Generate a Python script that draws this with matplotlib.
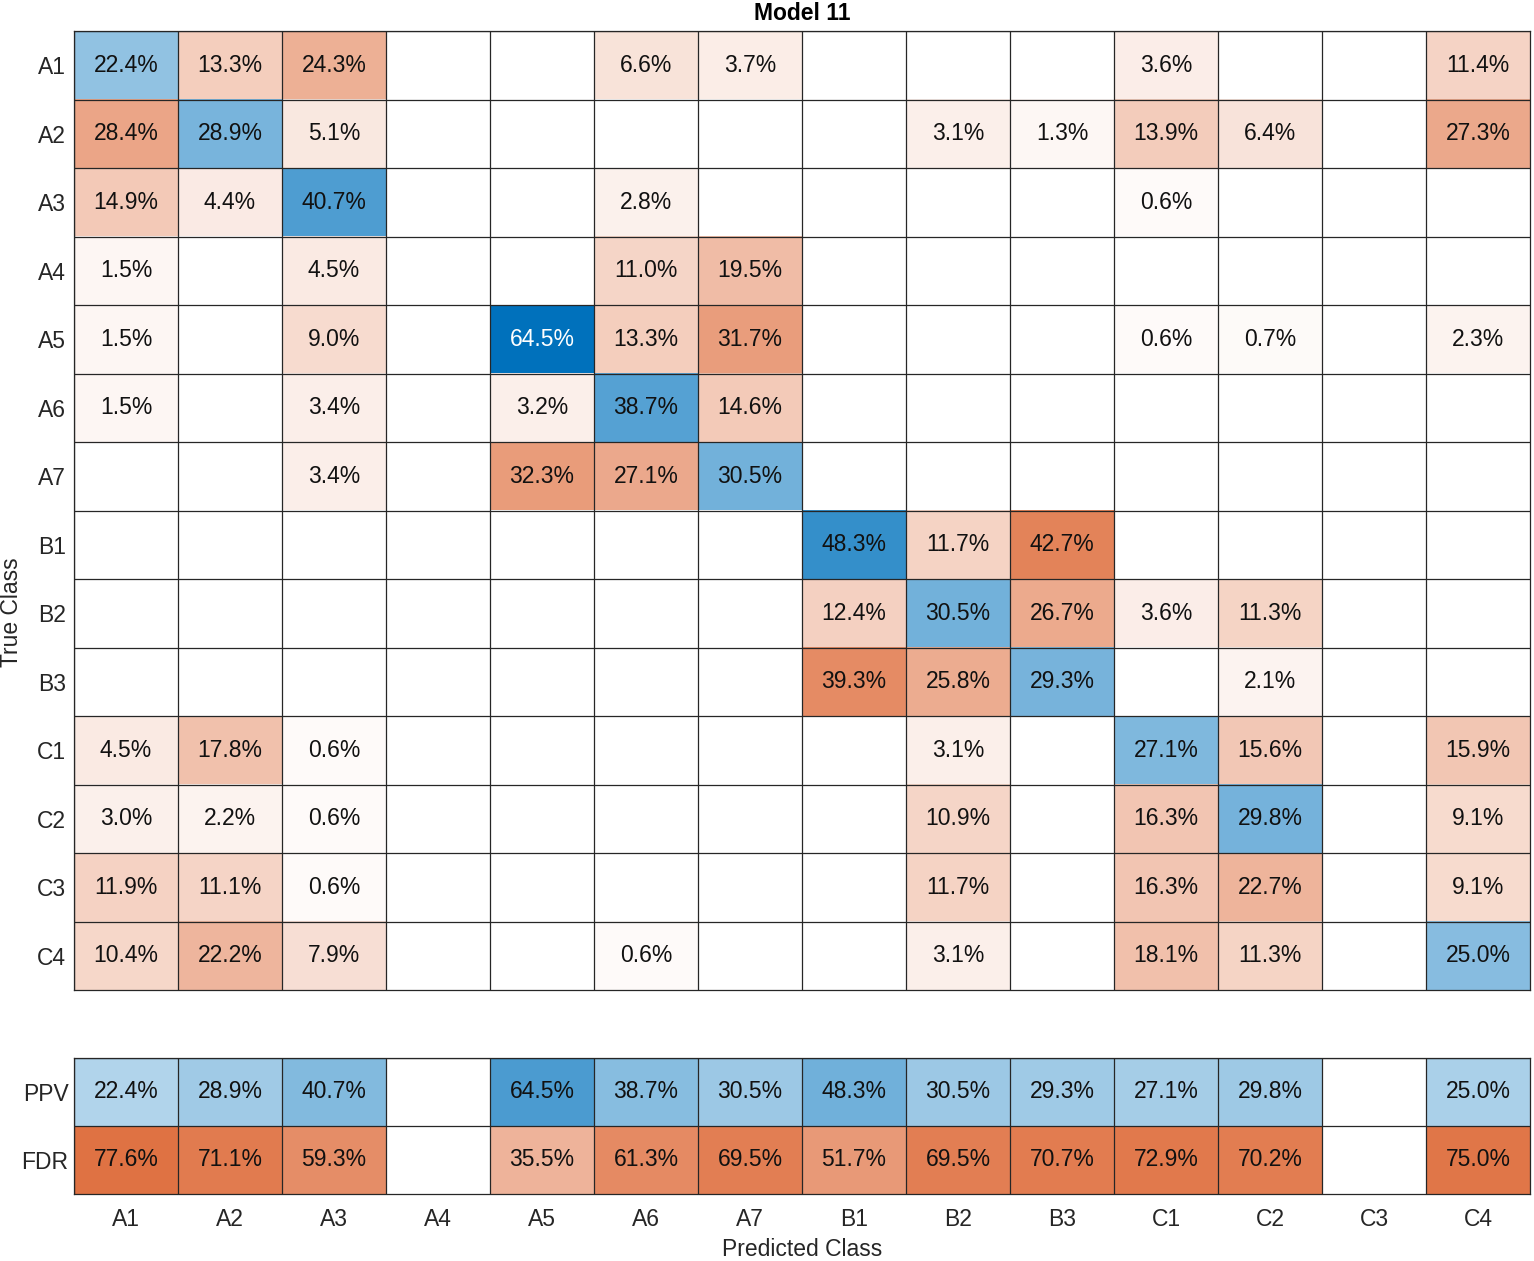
import numpy as np
import matplotlib
matplotlib.use("Agg")
import matplotlib.pyplot as plt

# --- DATA (column-normalized %, None = empty cell) ---
CLASSES = ["A1", "A2", "A3", "A4", "A5", "A6", "A7",
           "B1", "B2", "B3", "C1", "C2", "C3", "C4"]
N = None
CONF_PCT = [
    [22.4, 13.3, 24.3, N, N, 6.6, 3.7, N, N, N, 3.6, N, N, 11.4],
    [28.4, 28.9, 5.1, N, N, N, N, N, 3.1, 1.3, 13.9, 6.4, N, 27.3],
    [14.9, 4.4, 40.7, N, N, 2.8, N, N, N, N, 0.6, N, N, N],
    [1.5, N, 4.5, N, N, 11.0, 19.5, N, N, N, N, N, N, N],
    [1.5, N, 9.0, N, 64.5, 13.3, 31.7, N, N, N, 0.6, 0.7, N, 2.3],
    [1.5, N, 3.4, N, 3.2, 38.7, 14.6, N, N, N, N, N, N, N],
    [N, N, 3.4, N, 32.3, 27.1, 30.5, N, N, N, N, N, N, N],
    [N, N, N, N, N, N, N, 48.3, 11.7, 42.7, N, N, N, N],
    [N, N, N, N, N, N, N, 12.4, 30.5, 26.7, 3.6, 11.3, N, N],
    [N, N, N, N, N, N, N, 39.3, 25.8, 29.3, N, 2.1, N, N],
    [4.5, 17.8, 0.6, N, N, N, N, N, 3.1, N, 27.1, 15.6, N, 15.9],
    [3.0, 2.2, 0.6, N, N, N, N, N, 10.9, N, 16.3, 29.8, N, 9.1],
    [11.9, 11.1, 0.6, N, N, N, N, N, 11.7, N, 16.3, 22.7, N, 9.1],
    [10.4, 22.2, 7.9, N, N, 0.6, N, N, 3.1, N, 18.1, 11.3, N, 25.0],
]
PPV = [22.4, 28.9, 40.7, N, 64.5, 38.7, 30.5, 48.3, 30.5, 29.3, 27.1, 29.8, N, 25.0]
FDR = [77.6, 71.1, 59.3, N, 35.5, 61.3, 69.5, 51.7, 69.5, 70.7, 72.9, 70.2, N, 75.0]
SUMMARY_LABELS = ["PPV", "FDR"]

BLUE = np.array([0.0, 0.447, 0.741])
ORANGE = np.array([0.85, 0.325, 0.098])
GRID = "#262626"
TXT = "#262626"
FONT = "Liberation Sans"
FS = 16.5


def shade(v, vmax, base):
    t = (v / vmax) ** 0.8
    return 1 - t * (1 - base), t


def draw_cells(ax, rows, vmax, bases):
    nr, nc = len(rows), len(rows[0])
    img = np.ones((nr, nc, 3))
    for i in range(nr):
        for j in range(nc):
            v = rows[i][j]
            if v is None:
                continue
            col, t = shade(v, vmax, bases(i, j))
            img[i, j] = col
            ax.text(j, i, f"{v:.1f}%", ha="center", va="center",
                    fontsize=FS, family=FONT,
                    color="white" if t > 0.9 else "#111111")
    ax.imshow(img, aspect="auto", interpolation="nearest")
    ax.set_xticks(np.arange(nc) - 0.5, minor=True)
    ax.set_yticks(np.arange(nr) - 0.5, minor=True)
    ax.grid(which="minor", color=GRID, linewidth=0.9)
    ax.tick_params(which="both", length=0, labelsize=FS, colors=TXT)
    for s in ax.spines.values():
        s.set_color(GRID)
        s.set_linewidth(0.9)


W, H = 1534, 1261
fig = plt.figure(figsize=(W / 100, H / 100), dpi=100)

ax = fig.add_axes([74 / W, 1 - 990 / H, (1530 - 74) / W, (990 - 31) / H])
vmax = max(v for r in CONF_PCT for v in r if v is not None)
draw_cells(ax, CONF_PCT, vmax, lambda i, j: BLUE if i == j else ORANGE)
ax.set_xticks(np.arange(len(CLASSES)))
ax.set_xticklabels([])
ax.set_yticks(np.arange(len(CLASSES)))
ax.set_yticklabels(CLASSES, family=FONT)
ax.tick_params(axis="y", pad=6)

axs = fig.add_axes([74 / W, 1 - 1194 / H, (1530 - 74) / W, (1194 - 1058) / H])
draw_cells(axs, [PPV, FDR], 100.0, lambda i, j: BLUE if i == 0 else ORANGE)
axs.set_xticks(np.arange(len(CLASSES)))
axs.set_xticklabels(CLASSES, family=FONT)
axs.set_yticks(np.arange(2))
axs.set_yticklabels(SUMMARY_LABELS, family=FONT)
axs.tick_params(axis="y", pad=4)
axs.tick_params(axis="x", pad=10)

fig.text(802 / W, 1 - 13 / H, "Model 11", ha="center", va="center",
         fontsize=FS, fontweight="bold", family=FONT, color="black")
fig.text(12 / W, 1 - 612 / H, "True Class", ha="center", va="center",
         rotation=90, fontsize=FS, family=FONT, color=TXT)
fig.text(802 / W, 1 - 1249 / H, "Predicted Class", ha="center", va="center",
         fontsize=FS, family=FONT, color=TXT)

fig.savefig("out.png", dpi=100)
